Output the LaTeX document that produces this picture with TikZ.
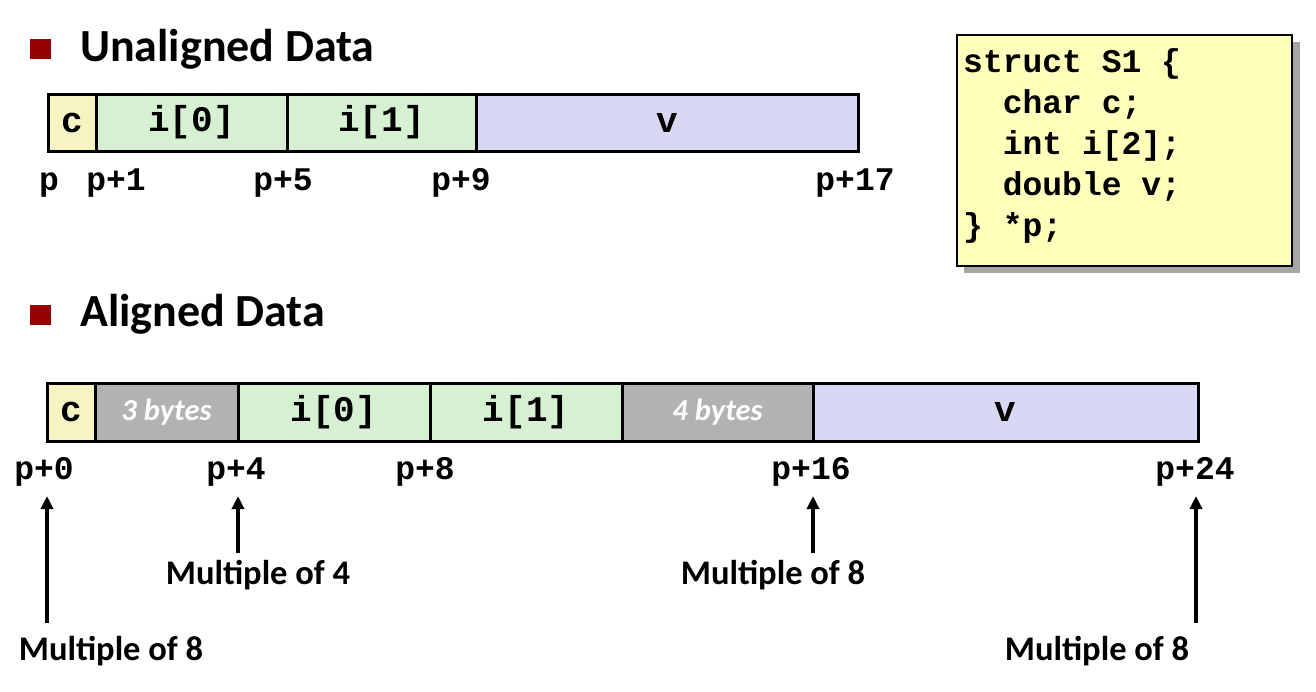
\documentclass[tikz,border=0pt]{standalone}
\usepackage{fontspec}
\setmainfont{Carlito}
\newfontfamily\codefont{Liberation Mono}
\usetikzlibrary{arrows.meta}
\definecolor{bulletred}{RGB}{153,0,0}
\definecolor{cyel}{RGB}{245,244,194}
\definecolor{igreen}{RGB}{214,240,210}
\definecolor{vlav}{RGB}{216,216,244}
\definecolor{padgray}{RGB}{178,178,178}
\definecolor{structfill}{RGB}{255,255,187}
\definecolor{shadowgray}{RGB}{165,165,165}
\tikzset{
  cell/.style={draw=black, line width=3pt, inner sep=0pt, minimum height=57pt,
    font=\codefont\bfseries\fontsize{36}{40}\selectfont},
  padcell/.style={cell, fill=padgray, text=white,
    font=\rmfamily\bfseries\itshape\fontsize{30.5}{34}\selectfont},
  addr/.style={anchor=base, inner sep=0pt, font=\codefont\bfseries\fontsize{33}{40}\selectfont},
  codeline/.style={anchor=base west, inner sep=0pt, font=\codefont\bfseries\fontsize{33}{40}\selectfont},
  heading/.style={anchor=base west, inner sep=0pt, font=\bfseries\fontsize{46}{52}\selectfont},
  bulletsq/.style={fill=bulletred, draw=none},
  mult/.style={anchor=base, inner sep=0pt, font=\bfseries\fontsize{34.5}{38}\selectfont},
  uparrow/.style={line width=3.5pt, -{Triangle[length=13pt,width=12pt]}},
}
\begin{document}
\begin{tikzpicture}[x=1pt,y=-1pt]
\useasboundingbox (0,0) rectangle (1316,691);
% headings
\fill[bulletsq] (30,39) rectangle (51,59);
\node[heading] (h1) at (80,61) {Unaligned Data};
\fill[bulletsq] (30,305) rectangle (51,325);
\node[heading] (h2) at (80,326) {Aligned Data};
% struct box
\fill[shadowgray] (964,42) rectangle (1300,273);
\node[draw=black, line width=1.5pt, fill=structfill, minimum width=335pt, minimum height=231pt, inner sep=0pt, anchor=north west] (sbox) at (956,34) {};
\node[codeline] (s1) at (963,72) {struct S1 \{};
\node[codeline] (s2) at (963,113) {\phantom{ss}char c;};
\node[codeline] (s3) at (963,154) {\phantom{ss}int i[2];};
\node[codeline] (s4) at (963,195) {\phantom{ss}double v;};
\node[codeline] (s5) at (963,236) {\} *p;};
% unaligned bar
\node[cell, fill=cyel, minimum width=48pt] (uc) at (72,122.5) {c};
\node[cell, fill=igreen, minimum width=191pt] (ui0) at (191.5,122.5) {i[0]};
\node[cell, fill=igreen, minimum width=189pt] (ui1) at (381.5,122.5) {i[1]};
\node[cell, fill=vlav, minimum width=382pt] (uv) at (667,122.5) {v};
\node[addr] (up0) at (49,190) {p};
\node[addr] (up1) at (116,190) {p+1};
\node[addr] (up5) at (283,190) {p+5};
\node[addr] (up9) at (461,190) {p+9};
\node[addr] (up17) at (855,190) {p+17};
% aligned bar
\node[cell, fill=cyel, minimum width=48pt, minimum height=58pt] (ac) at (71,412) {c};
\node[padcell, minimum width=143pt, minimum height=58pt] (ap3) at (166.5,412) {3 bytes};
\node[cell, fill=igreen, minimum width=192pt, minimum height=58pt] (ai0) at (334,412) {i[0]};
\node[cell, fill=igreen, minimum width=192pt, minimum height=58pt] (ai1) at (526,412) {i[1]};
\node[padcell, minimum width=191pt, minimum height=58pt] (ap4) at (717.5,412) {4 bytes};
\node[cell, fill=vlav, minimum width=385pt, minimum height=58pt] (av) at (1005.5,412) {v};
\node[addr] (ap0l) at (44,479) {p+0};
\node[addr] (ap4l) at (236,479) {p+4};
\node[addr] (ap8l) at (425,479) {p+8};
\node[addr] (ap16l) at (811,479) {p+16};
\node[addr] (ap24l) at (1195,479) {p+24};
% arrows
\coordinate (a0b) at (47,623); \coordinate (a0t) at (47,496);
\coordinate (a4b) at (238,553); \coordinate (a4t) at (238,496);
\coordinate (a16b) at (813,553); \coordinate (a16t) at (813,496);
\coordinate (a24b) at (1196,623); \coordinate (a24t) at (1196,496);
\draw[uparrow] (a0b) -- (a0t);
\draw[uparrow] (a4b) -- (a4t);
\draw[uparrow] (a16b) -- (a16t);
\draw[uparrow] (a24b) -- (a24t);
\node[mult] (m4) at (258,584) {Multiple of 4};
\node[mult] (m16) at (773,584) {Multiple of 8};
\node[mult] (m0) at (111,660) {Multiple of 8};
\node[mult] (m24) at (1097,660) {Multiple of 8};
\end{tikzpicture}
\end{document}
